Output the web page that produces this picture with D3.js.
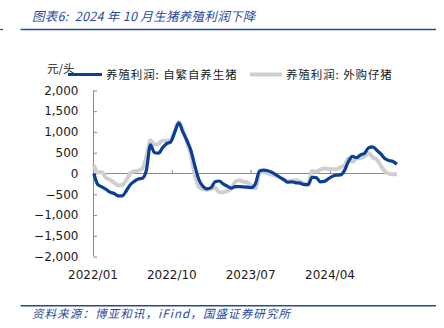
<!DOCTYPE html>
<html>
<head>
<meta charset="utf-8">
<script src="https://cdn.jsdelivr.net/npm/d3@7/dist/d3.min.js"></script>
<style>
  html, body { margin: 0; padding: 0; background: #fff; }
  svg { display: block; }
</style>
</head>
<body>
<svg id="chart" width="444" height="328"></svg>
<script>
// Fortnightly observations starting 2022-01-04 (元/头)
const firstDate = "2022-01-04";
const stepDays = 14;
const selfBred = [
  0, -270, -320, -380, -450, -480, -540, -540, -420, -270,
  -190, -135, -115, 80, 690, 500, 490, 620, 720, 760,
  990, 1220, 1000, 800, 560, 180, -150, -310, -370, -340,
  -200, -180, -250, -305, -350, -315, -315, -320, -330, -340,
  -240, 60, 80, 65, 30, -25, -90, -150, -210, -200,
  -225, -230, -270, -270, -90, -100, -200, -190, -130, -70,
  -40, -35, 70, 290, 410, 380, 450, 490, 620, 640,
  560, 470, 360, 315, 290, 225
];
const purchased = [
  205, 30, 30, -100, -150, -220, -280, -280, -160, 0,
  50, 70, 120, 400, 800, 700, 715, 790, 790, 800,
  1030, 1240, 1050, 760, 450, -50, -330, -380, -390, -360,
  -340, -450, -450, -420, -360, -200, -160, -195, -215, -300,
  -360, 20, 30, 0, -25, -55, -90, -145, -190, -175,
  -155, -195, -230, -270, 60, 45, 95, 120, 110, 100,
  100, 150, 200, 370, 280, 365, 370, 410, 490, 390,
  340, 190, 50, -5, -20, -20
];
const seriesNames = ["养殖利润: 自繁自养生猪", "养殖利润: 外购仔猪"];
const yTicks = [-2000, -1500, -1000, -500, 0, 500, 1000, 1500, 2000];
const xTickLabels = ["2022/01", "2022/10", "2023/07", "2024/04"];
const titleText = "图表6:  2024 年 10 月生猪养殖利润下降";
const sourceText = "资料来源：博亚和讯，iFind，国盛证券研究所";
const unitText = "元/头";

const parseDate = d3.utcParse("%Y-%m-%d");
const parseMonth = d3.utcParse("%Y/%m");
const start = parseDate(firstDate);
const dates = selfBred.map((_, i) => d3.utcDay.offset(start, i * stepDays));

const svg = d3.select("#chart");
const blue = "#0b3f95";
const grey = "#cfcfcf";
const accent = "#1f4a9e";
const axisGrey = "#8c8c8c";
const cnFont = "'Noto Sans CJK SC', sans-serif";
const numFont = "'DejaVu Sans', sans-serif";

// Header and footer
svg.append("text")
  .attr("x", 32).attr("y", 20.5)
  .attr("font-family", cnFont).attr("font-size", 12.5)
  .attr("font-style", "italic").attr("fill", accent)
  .attr("letter-spacing", 0.3)
  .attr("xml:space", "preserve")
  .text(titleText);
svg.append("line").attr("x1", 20.5).attr("x2", 436).attr("y1", 29.5).attr("y2", 29.5)
  .attr("stroke", accent).attr("stroke-width", 1.6);
svg.append("line").attr("x1", 0).attr("x2", 3).attr("y1", 29.5).attr("y2", 29.5)
  .attr("stroke", accent).attr("stroke-width", 1.2);
svg.append("line").attr("x1", 20.5).attr("x2", 436).attr("y1", 305.7).attr("y2", 305.7)
  .attr("stroke", accent).attr("stroke-width", 1.6);
svg.append("text")
  .attr("x", 32).attr("y", 317.5)
  .attr("font-family", cnFont).attr("font-size", 11.5)
  .attr("font-style", "italic").attr("fill", accent)
  .attr("letter-spacing", 1.1)
  .text(sourceText);

// Scales: two calendar anchors set the time axis; dates beyond them extrapolate
const x = d3.scaleUtc()
  .domain([parseMonth("2022/01"), parseMonth("2024/04")])
  .range([93, 330]);
const y = d3.scaleLinear().domain([-2000, 2000]).range([256.6, 90.4]);

// Y axis
const yAxis = d3.axisRight(y).tickValues(yTicks).tickSize(3.5).tickFormat(() => "");
const yg = svg.append("g").attr("transform", "translate(93.5,0)").call(yAxis);
yg.select(".domain").attr("stroke", axisGrey).attr("d", `M0,${y(2000)}V${y(-2000)}`);
yg.selectAll(".tick line").attr("stroke", axisGrey);
svg.append("g").selectAll("text").data(yTicks).join("text")
  .attr("x", 78.5).attr("y", d => y(d) + 4.3)
  .attr("text-anchor", "end")
  .attr("font-family", numFont).attr("font-size", 12).attr("fill", "#1a1a1a")
  .text(d3.format(","));

// X axis along zero line
const xTickDates = xTickLabels.map(parseMonth);
const endX = x(dates[dates.length - 1]);
const xAxis = d3.axisTop(x).tickValues(xTickDates).tickSize(3.5).tickFormat(() => "");
const xg = svg.append("g").attr("transform", `translate(0,${y(0)})`).call(xAxis);
xg.select(".domain").attr("stroke", axisGrey).attr("d", `M${x.range()[0]},0H${endX}`);
xg.selectAll(".tick line").attr("stroke", axisGrey);
svg.append("g").selectAll("text").data(xTickDates).join("text")
  .attr("x", d => x(d)).attr("y", 279)
  .attr("text-anchor", "middle")
  .attr("font-family", numFont).attr("font-size", 12).attr("fill", "#1a1a1a")
  .text((d, i) => xTickLabels[i]);

// Lines
const line = d3.line()
  .x((d, i) => x(dates[i]))
  .y(d => y(d))
  .curve(d3.curveMonotoneX);
svg.append("path").datum(purchased)
  .attr("d", line).attr("fill", "none")
  .attr("stroke", grey).attr("stroke-width", 4)
  .attr("stroke-linejoin", "round");
svg.append("path").datum(selfBred)
  .attr("d", line).attr("fill", "none")
  .attr("stroke", blue).attr("stroke-width", 3.2)
  .attr("stroke-linejoin", "round");

// Legend
svg.append("text").attr("x", 47).attr("y", 73)
  .attr("font-family", cnFont).attr("font-size", 11.5).attr("fill", "#1a1a1a")
  .text(unitText);
const legend = [
  { name: seriesNames[0], color: blue, x1: 68, x2: 102, tx: 106, w: 3.2 },
  { name: seriesNames[1], color: grey, x1: 250, x2: 282, tx: 286, w: 4 }
];
legend.forEach(l => {
  svg.append("line").attr("x1", l.x1).attr("x2", l.x2).attr("y1", 74.5).attr("y2", 74.5)
    .attr("stroke", l.color).attr("stroke-width", l.w);
  svg.append("text").attr("x", l.tx).attr("y", 79)
    .attr("font-family", cnFont).attr("font-size", 11.5).attr("fill", "#1a1a1a")
    .attr("letter-spacing", 0.9)
    .text(l.name);
});
</script>
</body>
</html>
